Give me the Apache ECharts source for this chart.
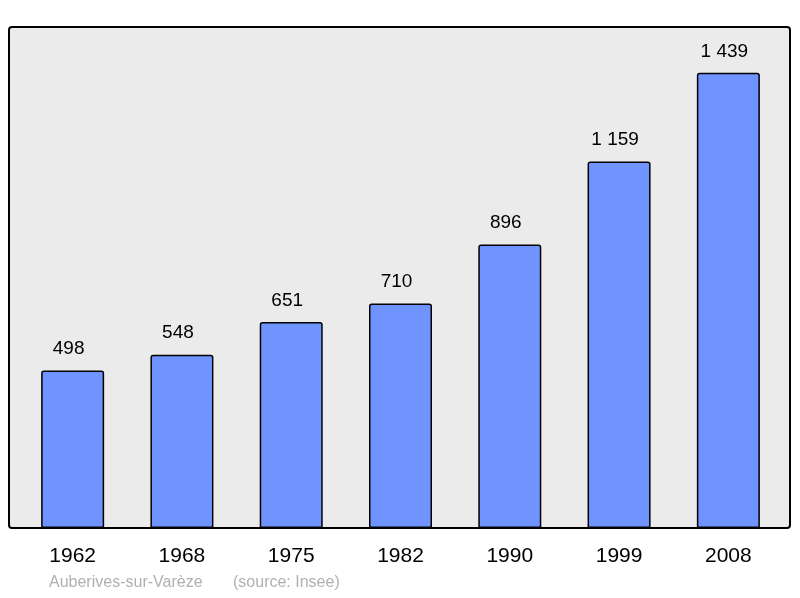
<!DOCTYPE html>
<html><head><meta charset="utf-8">
<script src="https://cdn.jsdelivr.net/npm/echarts@6/dist/echarts.min.js"></script>
<style>html,body{margin:0;padding:0;background:#fff}#c{width:800px;height:598px}</style>
</head><body><div id="c"></div>
<script>
const categories = ['1962','1968','1975','1982','1990','1999','2008'];
const population = [498,548,651,710,896,1159,1439];
const placeName = 'Auberives-sur-Varèze';
const sourceText = '(source: Insee)';

const chart = echarts.init(document.getElementById('c'));
chart.setOption({
  animation:false,
  graphic:[
    {type:'rect',z:-10,shape:{x:9,y:27,width:781,height:501,r:3},style:{fill:'#ebebeb',stroke:'#000',lineWidth:2}},
    {type:'text',left:49,top:575,style:{text:placeName,fill:'#b0b0b0',font:'16px "Liberation Sans", Arial, sans-serif'}},
    {type:'text',left:233,top:575,style:{text:sourceText,fill:'#b0b0b0',font:'16px "Liberation Sans", Arial, sans-serif'}}
  ],
  grid:{left:18,right:17,top:27,bottom:70},
  xAxis:{type:'category',data:categories,axisLine:{show:false},axisTick:{show:false},
    axisLabel:{margin:18,color:'#000',fontSize:21,fontFamily:'Liberation Sans, Arial, sans-serif'}},
  yAxis:{type:'value',min:0,max:1584,show:false,splitLine:{show:false}},
  series:[{type:'bar',data:population,barWidth:63,
    itemStyle:{color:'#7094ff',borderColor:'#000',borderWidth:1.5,borderRadius:[2,2,0,0]},
    label:{show:true,position:'top',distance:12,offset:[-4,0],color:'#000',fontSize:19,fontFamily:'Liberation Sans, Arial, sans-serif',
      formatter:p=>String(p.value).replace(/\B(?=(\d{3})+(?!\d))/g,' ')}}]
});
</script></body></html>
